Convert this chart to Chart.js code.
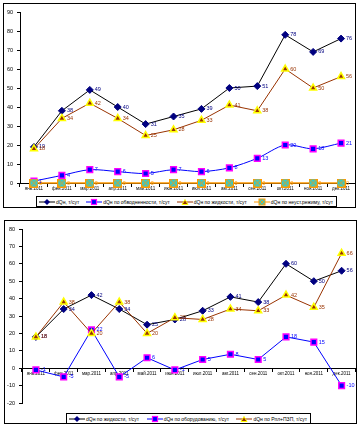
<!DOCTYPE html>
<html>
<head>
<meta charset="utf-8">
<script src="https://cdn.jsdelivr.net/npm/chart.js@4.4.1/dist/chart.umd.min.js"></script>
<style>
body{margin:0;width:361px;height:427px;background:#fff;position:relative;overflow:hidden;font-family:"Liberation Sans",Arial,sans-serif}
.frame{position:absolute;border:1px solid #000;box-sizing:border-box}
canvas{position:absolute;left:0}
.legend{position:absolute;border:1px solid #000;box-sizing:border-box;background:#fff;display:flex;align-items:center;justify-content:space-between;font-size:5px;white-space:nowrap;padding:0 3px 0 2px;color:#000}
.legend .item{display:flex;align-items:center}
.legend svg{margin-right:1px}
</style>
</head>
<body>
<div class="frame" style="left:3px;top:3px;width:353px;height:205px"></div>
<div class="frame" style="left:4px;top:220px;width:353px;height:204px"></div>
<canvas id="top" width="361" height="210" style="top:0;width:361px;height:210px"></canvas>
<canvas id="bottom" width="361" height="212" style="top:215px;width:361px;height:212px"></canvas>
<div class="legend" id="legendTop" style="left:36px;top:196px;width:301px;height:11px"></div>
<div class="legend" id="legendBottom" style="left:66px;top:413px;width:245px;height:11px"></div>
<script>
// months
var months = ['янв.2011', 'фев.2011', 'мар.2011', 'апр.2011', 'май.2011', 'июн.2011',
              'июл.2011', 'авг.2011', 'сен.2011', 'окт.2011', 'ноя.2011', 'дек.2011'];

// top chart series, т/сут
var dQn        = [19, 38, 49, 40, 31, 35, 39, 50, 51, 78, 69, 76];
var dQnWater   = [1, 4, 7, 6, 5, 7, 6, 8, 13, 20, 18, 21];
var dQnLiquid  = [18, 34, 42, 34, 25, 28, 33, 41, 38, 60, 50, 56];
var dQnUnsteady = [0, 0, 0, 0, 0, 0, 0, 0, 0, 0, 0, 0];

// bottom chart series, т/сут
var liquid2    = [18, 34, 42, 34, 25, 28, 33, 41, 38, 60, 50, 56];
var equipment  = [-1, -5, 22, -5, 6, -1, 5, 8, 5, 18, 15, -10];
var reservoir  = [18, 38, 20, 38, 20, 29, 28, 34, 33, 42, 35, 66];

var topTicks = [0, 90, 10];     // min, max, step
var bottomTicks = [-20, 80, 10];

var FONT = '"Liberation Sans", Arial, sans-serif';

// cyan box with orange cross, used as the marker of the zero series
function crossBox() {
  var c = document.createElement('canvas');
  c.width = 9; c.height = 9;
  var g = c.getContext('2d');
  g.fillStyle = '#33CCCC';
  g.fillRect(1, 1, 7, 7);
  g.strokeStyle = '#FF9900';
  g.lineWidth = 1;
  g.strokeRect(0.5, 0.5, 8, 8);
  g.beginPath();
  g.moveTo(1, 1); g.lineTo(8, 8);
  g.moveTo(8, 1); g.lineTo(1, 8);
  g.stroke();
  return c;
}

var styles = {
  diamond:  {pointStyle: 'rectRot', pointRadius: 3.5, pointBackgroundColor: '#000080', pointBorderColor: '#000080', pointBorderWidth: 1},
  square:   {pointStyle: 'rect', pointRadius: 4, pointBackgroundColor: '#0000FF', pointBorderColor: '#FF00FF', pointBorderWidth: 1.5},
  triangle: {pointStyle: 'triangle', pointRadius: 4, pointBackgroundColor: '#993300', pointBorderColor: '#FFFF00', pointBorderWidth: 1.5},
  cross:    {pointStyle: crossBox(), pointRadius: 4}
};

function makeSet(label, data, line, marker, labelColor, order, width) {
  var ds = {
    label: label, data: data,
    borderColor: line, borderWidth: width || 1,
    fill: false, tension: 0, clip: false,
    labelColor: labelColor, order: order, markerName: marker
  };
  var st = styles[marker];
  for (var k in st) ds[k] = st[k];
  return ds;
}

// draws the value to the right of every point
var valueLabels = {
  id: 'valueLabels',
  afterDatasetsDraw: function(chart) {
    var ctx = chart.ctx;
    ctx.save();
    ctx.font = '5.5px ' + FONT;
    ctx.textBaseline = 'middle';
    chart.data.datasets.forEach(function(ds, i) {
      ctx.fillStyle = ds.labelColor;
      chart.getDatasetMeta(i).data.forEach(function(pt, j) {
        ctx.fillText(String(ds.data[j]), pt.x + 5, pt.y);
      });
    });
    ctx.restore();
  }
};

function options(ticks, yWidth, pad) {
  return {
    responsive: false,
    animation: false,
    layout: {padding: pad},
    plugins: {legend: {display: false}, tooltip: {enabled: false}},
    scales: {
      x: {
        type: 'category',
        offset: true,
        position: {y: 0},
        grid: {drawOnChartArea: false, drawTicks: true, tickLength: 3, color: '#000', offset: true},
        border: {color: '#000', width: 1},
        ticks: {autoSkip: false, maxRotation: 0, padding: 0, color: '#000', font: {size: 4.5, family: FONT}}
      },
      y: {
        min: ticks[0], max: ticks[1],
        grid: {drawOnChartArea: false, drawTicks: true, tickLength: 3, color: '#000'},
        border: {color: '#000', width: 1},
        ticks: {stepSize: ticks[2], padding: 4, color: '#000', font: {size: 5.5, family: FONT}},
        afterFit: function(s) { s.width = yWidth; }
      }
    }
  };
}

var topSets = [
  makeSet('dQн, т/сут', dQn, '#000000', 'diamond', '#000080', 3),
  makeSet('dQн по обводненности, т/сут', dQnWater, '#0000FF', 'square', '#0000FF', 2),
  makeSet('dQн по жидкости, т/сут', dQnLiquid, '#993300', 'triangle', '#993300', 1),
  makeSet('dQн по неуст.режиму, т/сут', dQnUnsteady, '#FF9900', 'cross', '#FF9900', 0, 1.5)
];
topSets[1].tension = 0.3;

var bottomSets = [
  makeSet('dQн по жидкости, т/сут', liquid2, '#000000', 'diamond', '#000080', 2),
  makeSet('dQн по оборудованию, т/сут', equipment, '#0000FF', 'square', '#0000FF', 1),
  makeSet('dQн по Рпл+ПЗП, т/сут', reservoir, '#993300', 'triangle', '#993300', 0)
];

new Chart(document.getElementById('top'), {
  type: 'line',
  data: {labels: months, datasets: topSets},
  options: options(topTicks, 20, {top: 12, bottom: 27, left: 0, right: 6}),
  plugins: [valueLabels]
});

new Chart(document.getElementById('bottom'), {
  type: 'line',
  data: {labels: months, datasets: bottomSets},
  options: options(bottomTicks, 22, {top: 14, bottom: 24, left: 0, right: 5}),
  plugins: [valueLabels]
});

// legend samples: short line with the marker in the middle
function sample(ds) {
  var m = '';
  var fill = ds.pointBackgroundColor, stroke = ds.pointBorderColor;
  if (ds.markerName === 'diamond') {
    m = '<polygon points="8,1 11,4 8,7 5,4" fill="' + fill + '"/>';
  } else if (ds.markerName === 'square') {
    m = '<rect x="5.5" y="1.5" width="5" height="5" fill="' + fill + '" stroke="' + stroke + '" stroke-width="1.2"/>';
  } else if (ds.markerName === 'triangle') {
    m = '<polygon points="8,1.5 11,6.5 5,6.5" fill="' + fill + '" stroke="' + stroke + '" stroke-width="1"/>';
  } else {
    m = '<rect x="5" y="1" width="6" height="6" fill="#33CCCC" stroke="#FF9900" stroke-width="1"/>' +
        '<path d="M5 1L11 7M11 1L5 7" stroke="#FF9900" stroke-width="0.8"/>';
  }
  return '<svg width="16" height="8" viewBox="0 0 16 8"><line x1="0" y1="4" x2="16" y2="4" stroke="' +
         ds.borderColor + '" stroke-width="1"/>' + m + '</svg>';
}

function legend(id, sets) {
  var html = '';
  sets.forEach(function(ds) {
    html += '<span class="item">' + sample(ds) + '<span>' + ds.label + '</span></span>';
  });
  document.getElementById(id).innerHTML = html;
}
legend('legendTop', topSets);
legend('legendBottom', bottomSets);
</script>
</body>
</html>
